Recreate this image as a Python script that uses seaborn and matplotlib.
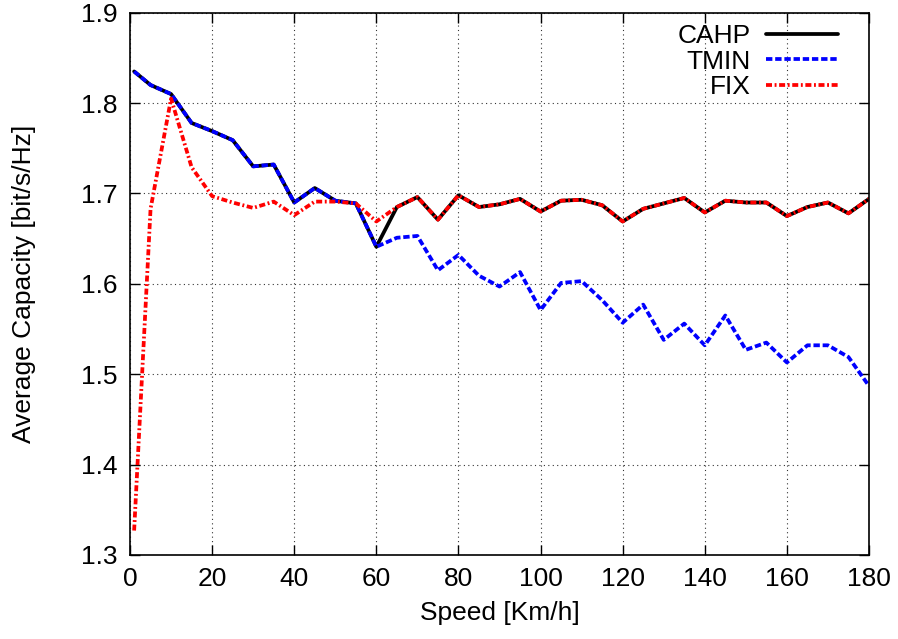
import numpy as np
import pandas as pd
import matplotlib
matplotlib.use("Agg")
import matplotlib.pyplot as plt
import seaborn as sns

# ─────────────────────────────────────────────
# DATA
# ─────────────────────────────────────────────
speed = [1, 5, 10, 15, 20, 25, 30, 35, 40, 45, 50, 55, 60, 65, 70, 75, 80, 85,
         90, 95, 100, 105, 110, 115, 120, 125, 130, 135, 140, 145, 150, 155,
         160, 165, 170, 175, 180]

cahp = [1.835, 1.820, 1.810, 1.778, 1.769, 1.759, 1.730, 1.732, 1.690, 1.706,
        1.692, 1.689, 1.641, 1.685, 1.696, 1.671, 1.698, 1.685, 1.688, 1.694,
        1.680, 1.692, 1.693, 1.687, 1.669, 1.683, 1.689, 1.695, 1.679, 1.692,
        1.690, 1.690, 1.675, 1.685, 1.690, 1.678, 1.694]

tmin = [1.835, 1.820, 1.810, 1.778, 1.769, 1.759, 1.730, 1.732, 1.690, 1.706,
        1.692, 1.689, 1.641, 1.651, 1.653, 1.615, 1.632, 1.609, 1.597, 1.613,
        1.571, 1.601, 1.603, 1.582, 1.557, 1.577, 1.538, 1.556, 1.532, 1.565,
        1.527, 1.535, 1.513, 1.532, 1.532, 1.519, 1.487]

fix = [1.327, 1.683, 1.805, 1.729, 1.697, 1.690, 1.684, 1.691, 1.676, 1.691,
       1.691, 1.689, 1.669, 1.685, 1.696, 1.671, 1.698, 1.685, 1.688, 1.694,
       1.680, 1.692, 1.693, 1.687, 1.669, 1.683, 1.689, 1.695, 1.679, 1.692,
       1.690, 1.690, 1.675, 1.685, 1.690, 1.678, 1.694]

x_ticks = [0, 20, 40, 60, 80, 100, 120, 140, 160, 180]
y_ticks = [1.3, 1.4, 1.5, 1.6, 1.7, 1.8, 1.9]

df = pd.DataFrame({"speed": speed, "CAHP": cahp, "TMIN": tmin, "FIX": fix})

# ─────────────────────────────────────────────
# STYLE
# ─────────────────────────────────────────────
sns.set_theme(style="ticks")
plt.rcParams["font.family"] = ["Liberation Sans", "DejaVu Sans"]
plt.rcParams["text.color"] = "black"
plt.rcParams["axes.labelcolor"] = "black"

fig = plt.figure(figsize=(8.98, 6.39), dpi=100)
ax = fig.add_axes([0.1448, 0.1315, 0.8229, 0.8486])

LW = 2.7
sns.lineplot(data=df, x="speed", y="CAHP", ax=ax, color="black",
             linewidth=LW, label="CAHP")
sns.lineplot(data=df, x="speed", y="TMIN", ax=ax, color="#0000ff",
             linewidth=LW, label="TMIN")
sns.lineplot(data=df, x="speed", y="FIX", ax=ax, color="#ff0000",
             linewidth=LW, label="FIX")

lines = ax.get_lines()
lines[1].set_dashes([1.7, 0.75])
lines[2].set_dashes([1.6, 0.7, 0.5, 0.7])

ax.set_xlim(0, 180)
ax.set_ylim(1.3, 1.9)
ax.set_xticks(x_ticks)
ax.set_yticks(y_ticks)
ax.set_xticklabels([str(t) for t in x_ticks])
ax.set_yticklabels([f"{t:.1f}" for t in y_ticks])

ax.grid(True, color="black", linestyle=(0, (1, 3)), linewidth=0.8, alpha=0.8)
ax.set_axisbelow(True)

for spine in ax.spines.values():
    spine.set_visible(True)
    spine.set_color("black")
    spine.set_linewidth(1.2)

ax.tick_params(direction="in", length=7, width=1, top=True, right=True,
               labelsize=19, pad=9, colors="black")

ax.set_xlabel("Speed [Km/h]", fontsize=19, labelpad=7)
ax.set_ylabel("Average Capacity [bit/s/Hz]", fontsize=19, labelpad=32)

leg = ax.legend(loc="upper right", bbox_to_anchor=(0.972, 0.998), frameon=False,
                fontsize=19, markerfirst=False, handlelength=2.7,
                handletextpad=0.6, labelspacing=0.05, borderaxespad=0.0)
for t in leg.get_texts():
    t.set_ha("right")

fig.savefig("out.png", dpi=100)
